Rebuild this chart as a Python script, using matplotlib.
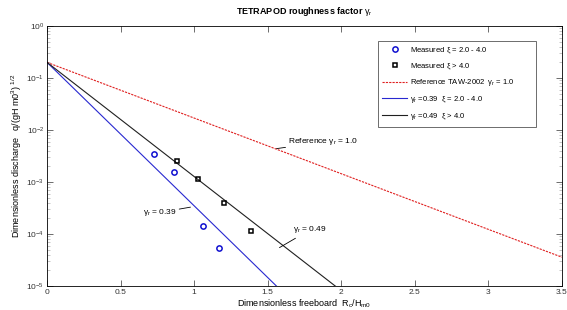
import matplotlib.pyplot as plt
from matplotlib.patches import Rectangle
from matplotlib.ticker import LogLocator, NullFormatter

# measured points
x_mid = [0.73, 0.86, 1.06, 1.17]          # xi = 2.0 - 4.0
q_mid = [3.4e-3, 1.55e-3, 1.45e-4, 5.3e-5]
x_high = [0.885, 1.025, 1.205, 1.385]     # xi > 4.0
q_high = [2.6e-3, 1.15e-3, 4.0e-4, 1.15e-4]

# straight lines on the log scale (end points)
x_ref = [0.0, 3.5]
q_ref = [0.2, 3.6e-5]
x_039 = [0.0, 1.56]
q_039 = [0.2, 1.0e-5]
x_049 = [0.0, 1.96]
q_049 = [0.2, 1.0e-5]

x_ticks = [0, 0.5, 1, 1.5, 2, 2.5, 3, 3.5]
x_tick_labels = ['0', '0.5', '1', '1.5', '2', '2.5', '3', '3.5']

plt.rcParams['font.family'] = ['Liberation Sans', 'DejaVu Sans']
plt.rcParams['mathtext.fontset'] = 'custom'
plt.rcParams['mathtext.rm'] = 'Liberation Sans'
plt.rcParams['mathtext.it'] = 'Liberation Sans'

fig = plt.figure(figsize=(5.67, 3.10), dpi=100)
ax = fig.add_axes([0.083, 0.077, 0.908, 0.839])

ax.plot(x_mid, q_mid, 'o', ms=3.8, mfc='none', mec='#1010d0', mew=1.1,
        label=r'Measured $\xi$ = 2.0 - 4.0', zorder=5)
ax.plot(x_high, q_high, 's', ms=3.3, mfc='none', mec='black', mew=1.1,
        label=r'Measured $\xi$ > 4.0', zorder=5)
ax.plot(x_ref, q_ref, ls=(0, (2, 1)), color='#e02020', lw=0.8,
        label=r'Reference TAW-2002  $\gamma_r$ = 1.0')
ax.plot(x_039, q_039, color='#2828d0', lw=0.8,
        label=r'$\gamma_r$ =0.39  $\xi$ = 2.0 - 4.0')
ax.plot(x_049, q_049, color='#202020', lw=0.8,
        label=r'$\gamma_r$ =0.49  $\xi$ > 4.0')

ax.set_yscale('log')
ax.set_xlim(0, 3.5)
ax.set_ylim(1e-5, 1)
ax.set_xticks(x_ticks)
ax.set_xticklabels(x_tick_labels)
ax.yaxis.set_major_locator(LogLocator(base=10, numticks=10))
ax.yaxis.set_minor_locator(LogLocator(base=10, subs=range(2, 10), numticks=10))
ax.yaxis.set_minor_formatter(NullFormatter())
ax.tick_params(which='both', direction='in', top=True, right=True,
               labelsize=6, colors='#333333', pad=2)
ax.tick_params(which='major', length=4, width=0.5)
ax.tick_params(which='minor', length=2, width=0.4, color='#999999')
for sp in ax.spines.values():
    sp.set_linewidth(0.6)

ax.set_title(r'TETRAPOD roughness factor $\gamma_r$', fontsize=6.5,
             fontweight='bold', pad=9)
ax.set_xlabel(r'Dimensionless freeboard  R$_c$/H$_{m0}$', fontsize=6.5, labelpad=1)
ax.set_ylabel(r'Dimensionless discharge   q/(gH m0$^3$) $^{1/2}$', fontsize=6.5,
              labelpad=2)

line_kw = dict(arrowstyle='-', lw=0.6, color='black', shrinkA=0, shrinkB=0)
ax.annotate(r'Reference $\gamma_r$ = 1.0', xy=(1.56, 4.4e-3), xytext=(1.64, 5.9e-3),
            fontsize=6, va='center', arrowprops=line_kw)
ax.annotate(r'$\gamma_r$ = 0.39', xy=(0.975, 3.3e-4), xytext=(0.65, 2.6e-4),
            fontsize=6, va='center', arrowprops=line_kw)
ax.annotate(r'$\gamma_r$ = 0.49', xy=(1.58, 5.5e-5), xytext=(1.67, 1.2e-4),
            fontsize=6, va='center', arrowprops=line_kw)

# legend box drawn separately: MATLAB leaves empty room on its right side
ax.add_patch(Rectangle((0.643, 0.612), 0.307, 0.330, transform=ax.transAxes,
                       fill=True, facecolor='white', edgecolor='#555555',
                       lw=0.6, zorder=6))
leg = ax.legend(loc='upper left', bbox_to_anchor=(0.643, 0.942), borderaxespad=0,
                fontsize=5.5, frameon=False, handlelength=3.2,
                labelspacing=0.75, borderpad=0.55, handletextpad=0.45)
leg.set_zorder(7)

fig.savefig('out.png', dpi=100)
